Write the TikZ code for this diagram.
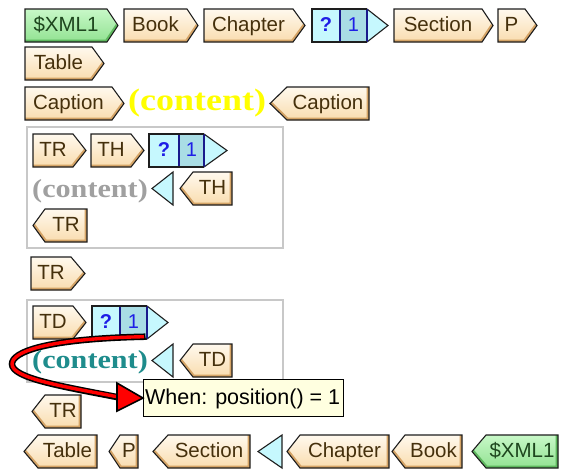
\documentclass[tikz,border=0pt]{standalone}
\usepackage{fontspec}
\setmainfont{Liberation Sans}
\newfontfamily\contentfont{Liberation Serif}
\usetikzlibrary{calc}

\definecolor{tagline}{HTML}{1E1E1E}
\definecolor{tagtop}{HTML}{FFF9EE}
\definecolor{tagbot}{HTML}{F9DCAE}
\definecolor{tagband}{HTML}{D5A466}
\definecolor{tagink}{HTML}{45300C}
\definecolor{grntop}{HTML}{C8F8C8}
\definecolor{grnbot}{HTML}{92E292}
\definecolor{grnband}{HTML}{5EB85E}
\definecolor{grnink}{HTML}{1E461E}
\definecolor{cyanA}{HTML}{C6F8FE}
\definecolor{cyanB}{HTML}{A9DDE5}
\definecolor{navy}{HTML}{1A1A8C}
\definecolor{qblue}{HTML}{1E1EE6}
\definecolor{boxgray}{HTML}{C8C8C8}
\definecolor{tipfill}{HTML}{FFFFE0}
\definecolor{contyellow}{HTML}{FFFF00}
\definecolor{contgray}{HTML}{A0A0A0}
\definecolor{contteal}{HTML}{1E8C8C}

\tikzset{
  tagfill/.style={top color=tagtop, bottom color=tagbot},
  greenfill/.style={top color=grntop, bottom color=grnbot},
  tagedge/.style={draw=tagline, line width=1.1pt, line join=miter},
  tagtext/.style={anchor=base, inner sep=0pt, text=tagink,
    font=\fontsize{20.5}{24}\selectfont},
  qmark/.style={anchor=base, inner sep=0pt, text=qblue,
    font=\fontsize{20}{24}\selectfont\bfseries},
  qnum/.style={anchor=base, inner sep=0pt, text=qblue,
    font=\fontsize{20}{24}\selectfont},
  contenttext/.style={anchor=base west, inner sep=0pt, xscale=1.16},
  groupbox/.style={draw=boxgray, line width=1.4pt},
  tipbox/.style={draw=black, line width=1.1pt, fill=tipfill},
  tiptext/.style={inner sep=0pt, font=\fontsize{21.5}{24}\selectfont},
  cyanend/.style={draw=tagline, line width=1.1pt, line join=miter, fill=cyanA},
}
\def\bandcolor{tagband}

% opening tag: [fill style] name, box left, box right, tip, top, label
\newcommand\openTag[7][tagfill]{%
  \path[#1] (#3,#6) -- (#4,#6) -- (#5,#6+16.5) -- (#4,#6+33) -- (#3,#6+33) -- cycle;
  \begin{scope}
    \clip (#3,#6) -- (#4,#6) -- (#5,#6+16.5) -- (#4,#6+33) -- (#3,#6+33) -- cycle;
    \draw[\bandcolor, line width=5pt] (#3,#6+33) -- (#4,#6+33) -- (#5,#6+16.5);
  \end{scope}
  \path[tagedge] (#3,#6) -- (#4,#6) -- (#5,#6+16.5) -- (#4,#6+33) -- (#3,#6+33) -- cycle;
  \node[tagtext] (#2) at ({(#3+#4)/2},#6+22.5) {#7};}
% closing tag: [fill style] name, tip, box left, box right, top, label
\newcommand\closeTag[7][tagfill]{%
  \path[#1] (#3,#6+16.5) -- (#4,#6) -- (#5,#6) -- (#5,#6+33) -- (#4,#6+33) -- cycle;
  \begin{scope}
    \clip (#3,#6+16.5) -- (#4,#6) -- (#5,#6) -- (#5,#6+33) -- (#4,#6+33) -- cycle;
    \draw[\bandcolor, line width=5pt] (#3,#6+16.5) -- (#4,#6+33) -- (#5,#6+33) -- (#5,#6);
  \end{scope}
  \path[tagedge] (#3,#6+16.5) -- (#4,#6) -- (#5,#6) -- (#5,#6+33) -- (#4,#6+33) -- cycle;
  \node[tagtext] (#2) at ({(#4+#5)/2},#6+22.5) {#7};}
% repeat marker: name, left, divider, right, tip, top
\newcommand\repeatTag[6]{%
  \fill[cyanA] (#2,#6) rectangle (#3,#6+33);
  \fill[cyanB] (#3,#6) rectangle (#4,#6+33);
  \path[cyanend] (#4,#6) -- (#5,#6+16.5) -- (#4,#6+33);
  \draw[navy, line width=1.1pt] (#3,#6) -- (#3,#6+33) (#4,#6) -- (#4,#6+33);
  \draw[tagline, line width=1.1pt] (#4,#6) -- (#2,#6) -- (#2,#6+33) -- (#4,#6+33);
  \node[qmark] (#1a) at ({(#2+#3)/2},#6+22.5) {?};
  \node[qnum] (#1b) at ({(#3+#4)/2},#6+22.5) {1};}
% closing repeat marker: tip, right edge, top
\newcommand\repeatEnd[3]{%
  \path[cyanend] (#1,#3+16.5) -- (#2,#3) -- (#2,#3+33) -- cycle;}

\begin{document}
\begin{tikzpicture}[x=1pt,y=-1pt]
\useasboundingbox (0,0) rectangle (561,469);
\fill[white] (0,0) rectangle (561,469);

% ---- opening path
\def\bandcolor{grnband}
\openTag[greenfill]{xmlA}{25}{107}{118}{9}{\color{grnink}\$XML1}
\def\bandcolor{tagband}
\openTag{bookA}{124}{187}{198}{9}{Book}
\openTag{chapA}{204}{293}{305}{9}{Chapter}
\repeatTag{repA}{312}{340}{367}{388}{9}
\openTag{secA}{394}{482}{493}{9}{Section}
\openTag{pA}{498}{525}{537}{9}{P}

\openTag{tableA}{25}{92}{104}{47}{Table}

% ---- caption
\openTag{capA}{25}{112}{124}{87}{Caption}
\node[contenttext, text=contyellow, font=\contentfont\bfseries\fontsize{31}{34}\selectfont]
  (capText) at (128,110) {(content)};
\closeTag{capB}{270}{287}{369}{87}{Caption}

% ---- header row group
\draw[groupbox] (27,127) rectangle (283,248);
\openTag{thrA}{33}{73}{86}{134}{TR}
\openTag{thA}{91}{131}{144}{134}{TH}
\repeatTag{repB}{149}{179}{204}{227}{134}
\node[contenttext, text=contgray, font=\contentfont\bfseries\fontsize{26}{30}\selectfont]
  (thText) at (32,197) {(content)};
\repeatEnd{152}{173}{172}
\closeTag{thB}{180}{193}{232}{172}{TH}
\closeTag{thrB}{33}{45}{87}{209}{TR}

% ---- data row
\openTag{tdrA}{31}{71}{85}{257}{TR}
\draw[groupbox] (27,300) rectangle (283,382);
\openTag{tdA}{33}{73}{86}{306}{TD}
\repeatTag{repC}{92}{120}{147}{168}{306}
\node[contenttext, text=contteal, font=\contentfont\bfseries\fontsize{26}{30}\selectfont]
  (tdText) at (32,368) {(content)};
\repeatEnd{152}{173}{344}
\closeTag{tdB}{180}{193}{232}{344}{TD}
\closeTag{tdrB}{32}{45}{81}{395}{TR}

% ---- condition tooltip
\node[tipbox, minimum width=200pt, minimum height=37pt, anchor=north west,
  inner sep=0pt] (cond) at (143,379) {};
\node[tiptext, anchor=west] (condText) at ($(cond.west)+(2,1)$) {When: position() = 1};

% ---- red pointer from the repeat marker to the tooltip
\coordinate (arrowTail) at ($(repCb.south)+(12,8)$);
\coordinate (arrowHead) at ($(cond.west)+(-26,-1)$);
\coordinate (arrowLoop) at (12,364);
\draw[black, line width=6.5pt]
  (arrowTail) .. controls ++(-100,2) and (12,352) .. (arrowLoop)
  .. controls (12,378) and (60,386) .. (arrowHead);
\draw[red, line width=3.4pt]
  ($(arrowTail)+(-1.5,0)$) .. controls ++(-99,2) and (12,352) .. (arrowLoop)
  .. controls (12,378) and (60,386) .. ($(arrowHead)+(2,0)$);
\filldraw[fill=red, draw=black, line width=1.6pt, line join=miter]
  ($(arrowHead)+(0,-14)$) -- (cond.west) -- ($(arrowHead)+(0,14)$) -- cycle;

% ---- closing path
\closeTag{tableB}{24}{38}{97}{435}{Table}
\closeTag{pB}{109}{120}{138}{435}{P}
\closeTag{secB}{153}{168}{250}{435}{Section}
\repeatEnd{258}{282}{435}
\closeTag{chapB}{287}{300}{389}{435}{Chapter}
\closeTag{bookB}{392}{405}{462}{435}{Book}
\def\bandcolor{grnband}
\closeTag[greenfill]{xmlB}{472}{486}{558}{435}{\color{grnink}\$XML1}
\end{tikzpicture}
\end{document}
